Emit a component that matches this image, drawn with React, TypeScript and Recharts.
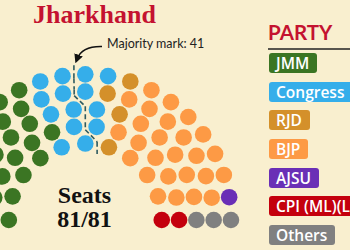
import { ReferenceLine, Scatter, ScatterChart, XAxis, YAxis } from 'recharts'

// party results
const PARTIES = ['JMM', 'Congress', 'RJD', 'BJP', 'AJSU', 'CPI (ML)(L)', 'Others']
const SEATS = [31, 14, 4, 26, 1, 2, 3]
const COLORS = ['#3b7523', '#35aeea', '#d4902a', '#fd9a45', '#6a2fb6', '#c4000d', '#808080']

// seats in each row of the hemicycle, inner row first
const ROW_SEATS = [11, 14, 16, 19, 21]
// seats left of the dashed majority line, per row
const MAJORITY_SPLIT = [6, 7, 8, 9, 10]
const MAJORITY = 41

const W = 350
const H = 250
const BG = '#f9efcf'
const RED = '#c41230'
const CX = 85.3
const CY = 220
const UNIT = 17.3 // px per seat width
const INNER = 4.42 // radius of inner row, in seat widths
const SEAT_R = 8.3

const X_DOMAIN = [-CX / UNIT, (W - CX) / UNIT]
const Y_DOMAIN = [-(H - CY) / UNIT, CY / UNIT]

interface Seat {
  x: number
  y: number
  row: number
  angle: number
  party: number
}

function buildSeats() {
  const seats: Seat[] = []
  ROW_SEATS.forEach((n, row) => {
    const r = INNER + row
    for (let k = 0; k < n; k++) {
      const angle = Math.PI - (k * Math.PI) / (n - 1)
      seats.push({ x: r * Math.cos(angle), y: r * Math.sin(angle), row, angle, party: 0 })
    }
  })
  seats.sort((a, b) => (Math.abs(a.angle - b.angle) > 1e-9 ? b.angle - a.angle : a.row - b.row))
  let party = 0
  let used = 0
  seats.forEach((s) => {
    while (party < SEATS.length - 1 && used >= SEATS[party]) {
      party += 1
      used = 0
    }
    s.party = party
    used += 1
  })
  return seats
}

const yAt = (r: number, x: number) => Math.sqrt(Math.max(r * r - x * x, 0))

function majorityPoints(seats: Seat[]) {
  const rows = ROW_SEATS.map((_, i) => seats.filter((s) => s.row === i).sort((a, b) => a.x - b.x))
  const cut = rows.map((row, i) => (row[MAJORITY_SPLIT[i] - 1].x + row[MAJORITY_SPLIT[i]].x) / 2)
  const last = rows.length - 1
  const pts = [{ x: cut[last], y: yAt(INNER + last + 0.55, cut[last]) }]
  for (let i = last; i > 0; i--) {
    if (Math.abs(cut[i] - cut[i - 1]) > 1e-6) {
      pts.push({ x: cut[i], y: yAt(INNER + i - 0.2, cut[i]) })
      pts.push({ x: cut[i - 1], y: yAt(INNER + i - 1 + 0.15, cut[i - 1]) })
    }
  }
  pts.push({ x: cut[0], y: yAt(INNER - 0.55, cut[0]) })
  return pts
}

const seatShape = (color: string) => (props: any) =>
  <circle cx={props.cx} cy={props.cy} r={SEAT_R} fill={color} />

export default function App() {
  const seats = buildSeats()
  const line = majorityPoints(seats)
  const total = SEATS.reduce((a, b) => a + b, 0)

  return (
    <div
      style={{
        position: 'absolute',
        left: 0,
        top: 0,
        width: W,
        height: H,
        background: BG,
        overflow: 'hidden',
      }}
    >
      <ScatterChart width={W} height={H} margin={{ top: 0, right: 0, bottom: 0, left: 0 }}>
        <XAxis type="number" dataKey="x" domain={X_DOMAIN} allowDataOverflow hide />
        <YAxis type="number" dataKey="y" domain={Y_DOMAIN} allowDataOverflow hide />
        {PARTIES.map((name, i) => (
          <Scatter
            key={name}
            name={name}
            data={seats.filter((s) => s.party === i)}
            fill={COLORS[i]}
            shape={seatShape(COLORS[i])}
            isAnimationActive={false}
          />
        ))}
        {line.slice(1).map((p, i) => (
          <ReferenceLine
            key={i}
            segment={[line[i], p]}
            stroke="#2e5b60"
            strokeWidth={1.6}
            strokeDasharray="5 3"
          />
        ))}
      </ScatterChart>

      <svg width={W} height={H} style={{ position: 'absolute', left: 0, top: 0 }}>
        <defs>
          <marker id="head" viewBox="0 0 10 10" refX="5" refY="5" markerWidth="6" markerHeight="6" orient="auto">
            <path d="M0,0 L10,5 L0,10 z" fill="#111" />
          </marker>
        </defs>
        <text x={33} y={23} fontFamily="'Liberation Serif', serif" fontWeight={700} fontSize={26} fill={RED}>
          Jharkhand
        </text>
        <text x={107} y={48} fontFamily="Lato, sans-serif" fontSize={12.5} fill="#222">
          Majority mark: {MAJORITY}
        </text>
        <path d="M102,46.5 Q82,46 77,59" fill="none" stroke="#111" strokeWidth={1.5} markerEnd="url(#head)" />
        <g fontFamily="'Liberation Serif', serif" fontWeight={700} fontSize={24} fill="#111" textAnchor="middle">
          <text x={84.5} y={202.7}>Seats</text>
          <text x={84.5} y={227.3}>
            {total}/{total}
          </text>
        </g>
        <text x={268} y={40} fontFamily="Lato, sans-serif" fontWeight={700} fontSize={20.5} fill={RED}>
          PARTY
        </text>
        <line x1={268} x2={W} y1={49} y2={49} stroke="#222" strokeWidth={1.5} />
      </svg>

      {PARTIES.map((name, i) => (
        <div
          key={name}
          style={{
            position: 'absolute',
            left: 269,
            top: 53 + i * 28.67,
            height: 20,
            lineHeight: '20px',
            padding: '0 8px 0 7px',
            borderRadius: 3,
            background: COLORS[i],
            color: '#fff',
            whiteSpace: 'nowrap',
            fontFamily: "'Open Sans', sans-serif",
            fontWeight: 600,
            fontSize: 15.5,
          }}
        >
          {name}
        </div>
      ))}
    </div>
  )
}
